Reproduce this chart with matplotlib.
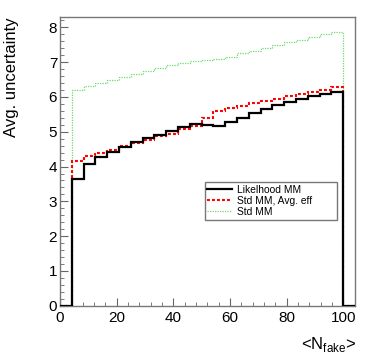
import numpy as np
import matplotlib
matplotlib.use("Agg")
import matplotlib.pyplot as plt
from matplotlib.ticker import MultipleLocator
from matplotlib.lines import Line2D

plt.rcParams['font.family'] = ['Liberation Sans', 'DejaVu Sans']

# Histogram: 25 bins of width 100/24 from 0 (first and last bins empty)
n_bins = 25
bin_width = 100.0 / 24
likelihood_mm = [3.63, 4.06, 4.28, 4.43, 4.57, 4.70, 4.81, 4.92, 5.03, 5.13, 5.22, 5.20,
                 5.17, 5.29, 5.41, 5.55, 5.65, 5.76, 5.85, 5.94, 6.03, 6.08, 6.15]
std_mm_avg_eff = [4.16, 4.29, 4.38, 4.47, 4.60, 4.68, 4.76, 4.87, 4.95, 5.07, 5.16, 5.40,
                  5.60, 5.67, 5.75, 5.82, 5.88, 5.95, 6.02, 6.08, 6.15, 6.21, 6.28]
std_mm = [6.20, 6.32, 6.39, 6.49, 6.58, 6.66, 6.74, 6.82, 6.92, 6.99, 7.03, 7.06,
          7.09, 7.16, 7.25, 7.33, 7.41, 7.49, 7.57, 7.64, 7.73, 7.80, 7.87]
labels = ["Likelhood MM", "Std MM, Avg. eff", "Std MM"]
x_ticks = [0, 20, 40, 60, 80, 100]
y_ticks = [0, 1, 2, 3, 4, 5, 6, 7, 8]

edges = np.arange(n_bins + 1) * bin_width

def pad(v):
    return np.concatenate([[0.0], v, [0.0]])

green = '#6ddc6d'
red_ls = (0, (1.4, 1.0))
green_ls = (0, (1, 1))

fig = plt.figure(figsize=(3.74, 3.64), dpi=100)
ax = fig.add_axes([0.1604, 0.160, 0.7888, 0.7925])

ax.stairs(pad(std_mm), edges, color=green, lw=0.9, linestyle=green_ls, zorder=2)
ax.stairs(pad(std_mm_avg_eff), edges, color='#ff0000', lw=1.5, linestyle=red_ls, zorder=3)
ax.stairs(pad(likelihood_mm), edges, color='black', lw=1.6, zorder=4)

ax.set_xlim(edges[0], edges[-1])
ax.set_ylim(0, 8.29)
ax.set_xticks(x_ticks)
ax.set_yticks(y_ticks)
ax.xaxis.set_minor_locator(MultipleLocator(4))
ax.yaxis.set_minor_locator(MultipleLocator(0.2))
fs = 11
ax.tick_params(which='both', direction='in', top=False, right=False, color='#666666',
               labelsize=fs, labelcolor='black')
ax.tick_params(axis='x', which='major', length=6, pad=3.5)
ax.tick_params(axis='x', which='minor', length=3)
ax.tick_params(axis='y', which='major', length=6, pad=2)
ax.tick_params(axis='y', which='minor', length=3)
for s in ax.spines.values():
    s.set_color('#777777')
    s.set_linewidth(1.0)

ax.text(-0.163, 1.0, "Avg. uncertainty", transform=ax.transAxes, rotation=90,
        ha='center', va='top', fontsize=12)
ax.text(1.005, -0.136, r"<N$_\mathregular{fake}$>", transform=ax.transAxes,
        ha='right', va='center', fontsize=12)

handles = [Line2D([], [], color='black', lw=1.6),
           Line2D([], [], color='#ff0000', lw=1.5, linestyle=red_ls),
           Line2D([], [], color=green, lw=0.9, linestyle=green_ls)]
leg = ax.legend(handles, labels, loc='upper left', bbox_to_anchor=(0.49, 0.303, 0.449, 0.127),
                mode='expand', fontsize=7.4, frameon=True, fancybox=False, edgecolor='#777777',
                framealpha=1, borderaxespad=0, handlelength=2.4, handletextpad=0.5,
                labelspacing=0.12, borderpad=0.28)
leg.get_frame().set_linewidth(1.0)

fig.savefig("out.png", dpi=100)
